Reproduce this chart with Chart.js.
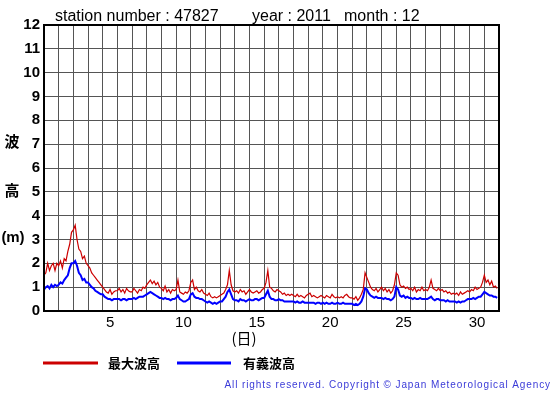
<!DOCTYPE html>
<html>
<head>
<meta charset="utf-8">
<script src="https://cdn.jsdelivr.net/npm/chart.js@4/dist/chart.umd.min.js"></script>
<style>
  html, body { margin: 0; padding: 0; background: #fff; }
  canvas { display: block; }
</style>
</head>
<body>
<canvas id="chart" width="555" height="395"></canvas>
<script>
// 3-hourly readings (8 per day), December 2011, station 47827
const pointsPerDay = 8;
const dayCount = 31;
const dayLabels = [5, 10, 15, 20, 25, 30];
const yTicks = [0, 1, 2, 3, 4, 5, 6, 7, 8, 9, 10, 11, 12];

const maxWave = [
  1.5, 1.6, 2.0, 1.7, 1.9, 2.0, 1.7, 2.0,
  1.9, 2.1, 1.8, 2.2, 2.1, 2.5, 2.8, 3.3,
  3.4, 3.6, 3.0, 2.6, 2.5, 2.2, 2.3, 2.0,
  1.9, 1.8, 1.6, 1.5, 1.4, 1.3, 1.2, 1.1,
  1.0, 0.9, 0.8, 0.75, 0.9, 0.7, 0.8, 0.85,
  0.85, 0.95, 0.8, 0.9, 0.75, 0.95, 0.85, 0.8,
  0.8, 0.95, 0.85, 0.75, 0.9, 0.85, 1.0, 0.95,
  1.1, 1.2, 1.3, 1.15, 1.25, 1.1, 1.2, 1.0,
  0.95, 0.85, 1.05, 0.8, 0.9, 0.75, 0.9, 0.85,
  0.9, 1.3, 0.8, 0.75, 0.7, 0.8, 0.75, 0.85,
  1.2, 1.3, 0.9, 1.0, 0.85, 0.8, 0.9, 0.75,
  0.7, 0.65, 0.75, 0.6, 0.55, 0.6, 0.55, 0.6,
  0.65, 0.7, 0.75, 0.9, 1.1, 1.7, 1.1, 0.85,
  0.8, 0.85, 0.75, 0.9, 0.8, 0.85, 0.7, 0.8,
  0.9, 0.8, 0.75, 0.8, 0.85, 0.75, 0.8, 0.9,
  0.95, 1.2, 1.7, 1.0, 0.95, 0.85, 0.8, 0.9,
  0.85, 0.8, 0.7, 0.75, 0.65, 0.7, 0.65, 0.7,
  0.65, 0.6, 0.7, 0.6, 0.65, 0.6, 0.55, 0.65,
  0.7, 0.75, 0.6, 0.65, 0.6, 0.55, 0.6, 0.65,
  0.6, 0.55, 0.65, 0.6, 0.55, 0.7, 0.6, 0.55,
  0.6, 0.55, 0.6, 0.55, 0.65, 0.7, 0.6, 0.55,
  0.55, 0.5, 0.6, 0.45, 0.55, 0.7, 0.9, 1.6,
  1.4, 1.2, 1.0, 0.9, 0.85, 0.95, 0.8, 0.9,
  1.0, 0.85, 0.95, 0.8, 0.9, 0.75, 0.85, 1.1,
  1.6, 1.5, 1.1, 1.0, 1.05, 0.95, 1.0, 0.9,
  0.95, 0.85, 1.0, 0.8, 0.9, 0.85, 1.0, 0.85,
  0.9, 0.85, 1.0, 1.3, 0.95, 0.9, 0.85, 0.95,
  0.85, 0.9, 0.8, 0.85, 0.75, 0.8, 0.7, 0.75,
  0.7, 0.75, 0.65, 0.8, 0.7, 0.75, 0.8, 0.85,
  0.8, 0.9, 0.85, 1.0, 0.9, 0.95, 1.0, 1.2,
  1.5, 1.2, 1.3, 1.1, 1.25, 1.0, 1.05, 0.95
];

const sigWave = [
  0.9, 1.0, 1.05, 0.95, 1.1, 1.0, 1.1, 1.05,
  1.1, 1.2, 1.15, 1.3, 1.4, 1.5, 1.8, 2.0,
  2.0, 2.1, 1.9, 1.6, 1.5, 1.3, 1.35, 1.2,
  1.2, 1.1, 1.0, 0.95, 0.85, 0.8, 0.75, 0.7,
  0.7, 0.6, 0.55, 0.5, 0.5, 0.45, 0.5, 0.5,
  0.5, 0.5, 0.45, 0.5, 0.5, 0.45, 0.5, 0.5,
  0.5, 0.55, 0.5, 0.55, 0.6, 0.6, 0.6, 0.65,
  0.7, 0.75, 0.8, 0.75, 0.7, 0.65, 0.6, 0.55,
  0.55, 0.5, 0.55, 0.5, 0.5, 0.45, 0.5, 0.5,
  0.55, 0.65, 0.5, 0.45, 0.4, 0.4, 0.45, 0.5,
  0.7, 0.75, 0.6, 0.55, 0.55, 0.5, 0.5, 0.45,
  0.4, 0.35, 0.4, 0.35, 0.3, 0.35, 0.3, 0.35,
  0.4, 0.4, 0.5, 0.6, 0.8, 0.9, 0.7, 0.5,
  0.45, 0.45, 0.4, 0.5, 0.45, 0.45, 0.4, 0.45,
  0.5, 0.45, 0.45, 0.5, 0.5, 0.45, 0.5, 0.55,
  0.55, 0.7, 0.85, 0.6, 0.5, 0.5, 0.45, 0.45,
  0.5, 0.45, 0.45, 0.4, 0.4, 0.4, 0.4, 0.4,
  0.4, 0.35, 0.4, 0.35, 0.35, 0.4, 0.35, 0.35,
  0.35, 0.35, 0.35, 0.35, 0.3, 0.35, 0.35, 0.3,
  0.35, 0.3, 0.35, 0.3, 0.3, 0.35, 0.3, 0.3,
  0.35, 0.3, 0.3, 0.35, 0.3, 0.3, 0.3, 0.3,
  0.3, 0.25, 0.3, 0.25, 0.3, 0.4, 0.6, 0.95,
  0.9, 0.75, 0.65, 0.6, 0.55, 0.6, 0.55, 0.55,
  0.55, 0.5, 0.55, 0.5, 0.5, 0.45, 0.5, 0.6,
  1.0, 0.9, 0.65, 0.6, 0.65, 0.55, 0.6, 0.55,
  0.55, 0.5, 0.55, 0.5, 0.5, 0.55, 0.5, 0.5,
  0.5, 0.5, 0.55, 0.6, 0.5, 0.45, 0.5, 0.5,
  0.45, 0.45, 0.45, 0.4, 0.45, 0.4, 0.4, 0.4,
  0.4, 0.35, 0.4, 0.35, 0.4, 0.4, 0.45, 0.5,
  0.5, 0.5, 0.55, 0.5, 0.55, 0.6, 0.6, 0.7,
  0.8, 0.75, 0.7, 0.65, 0.65, 0.6, 0.6, 0.55
];

const toPoints = arr => arr.map((v, i) => ({ x: i / pointsPerDay, y: v }));

const latin = '"Liberation Sans", Arial, sans-serif';
const cjk = '"Noto Sans CJK JP", sans-serif';

// text outside the plot: title, y title, legend, copyright
const extras = {
  id: 'extras',
  afterDraw(chart) {
    const ctx = chart.ctx;
    const a = chart.chartArea;
    ctx.save();

    ctx.strokeStyle = '#000';
    ctx.lineWidth = 2;
    ctx.strokeRect(a.left, a.top, a.right - a.left, a.bottom - a.top);

    ctx.fillStyle = '#000';
    ctx.textBaseline = 'middle';
    ctx.textAlign = 'left';
    ctx.font = '16px ' + latin;
    ctx.fillText('station number : 47827', 55, 17);
    ctx.fillText('year : 2011', 252, 17);
    ctx.fillText('month : 12', 344, 17);

    ctx.textAlign = 'center';
    ctx.font = 'bold 15px ' + cjk;
    ctx.fillText('波', 12, 141);
    ctx.fillText('高', 12, 190);
    ctx.font = 'bold 15px ' + latin;
    ctx.fillText('(', 4, 238);
    ctx.fillText('m', 13, 238);
    ctx.fillText(')', 22, 238);

    ctx.font = '15px ' + cjk;
    ctx.fillText('(日)', 244, 338);

    ctx.lineWidth = 3;
    ctx.strokeStyle = '#cc0000';
    ctx.beginPath(); ctx.moveTo(43, 363); ctx.lineTo(98, 363); ctx.stroke();
    ctx.strokeStyle = '#0000ff';
    ctx.beginPath(); ctx.moveTo(177, 363); ctx.lineTo(231, 363); ctx.stroke();
    ctx.textAlign = 'left';
    ctx.font = 'bold 13px ' + cjk;
    ctx.fillText('最大波高', 108, 363);
    ctx.fillText('有義波高', 243, 363);

    ctx.textAlign = 'right';
    ctx.fillStyle = '#3a3ad8';
    ctx.font = '10px ' + latin;
    ctx.letterSpacing = '0.9px';
    ctx.fillText('All rights reserved. Copyright © Japan Meteorological Agency', 551, 385);
    ctx.restore();
  }
};

new Chart(document.getElementById('chart'), {
  type: 'line',
  data: {
    datasets: [
      { label: '最大波高', data: toPoints(maxWave), borderColor: '#cc0000', borderWidth: 1.2 },
      { label: '有義波高', data: toPoints(sigWave), borderColor: '#0000ff', borderWidth: 2 }
    ]
  },
  options: {
    responsive: false,
    animation: false,
    devicePixelRatio: 1,
    parsing: false,
    elements: { point: { radius: 0 }, line: { tension: 0 } },
    layout: { padding: { top: 25, right: 56, left: 0, bottom: 0 } },
    plugins: { legend: { display: false }, tooltip: { enabled: false } },
    scales: {
      x: {
        type: 'linear', min: 0, max: dayCount,
        afterBuildTicks: s => { s.ticks = Array.from({ length: dayCount + 1 }, (_, i) => ({ value: i })); },
        afterFit: s => { s.height = 0; },
        ticks: { display: false },
        grid: { color: '#555', lineWidth: 1, drawTicks: false },
        border: { display: false }
      },
      xl: {
        type: 'linear', position: 'bottom', min: 0, max: dayCount,
        afterBuildTicks: s => { s.ticks = dayLabels.map(d => ({ value: d - 0.5 })); },
        afterFit: s => { s.height = 84; },
        ticks: {
          autoSkip: false, maxRotation: 0, padding: 3, color: '#000',
          font: { family: latin, size: 15 },
          callback: v => String(v + 0.5)
        },
        grid: { display: false, drawTicks: false },
        border: { display: false }
      },
      y: {
        min: 0, max: 12,
        afterBuildTicks: s => { s.ticks = yTicks.map(v => ({ value: v })); },
        afterFit: s => { s.width = 44; },
        ticks: { padding: 4, color: '#000', font: { family: latin, size: 15, weight: 'bold' } },
        grid: { color: '#555', lineWidth: 1, drawTicks: false },
        border: { display: false }
      }
    }
  },
  plugins: [extras]
});
</script>
</body>
</html>
